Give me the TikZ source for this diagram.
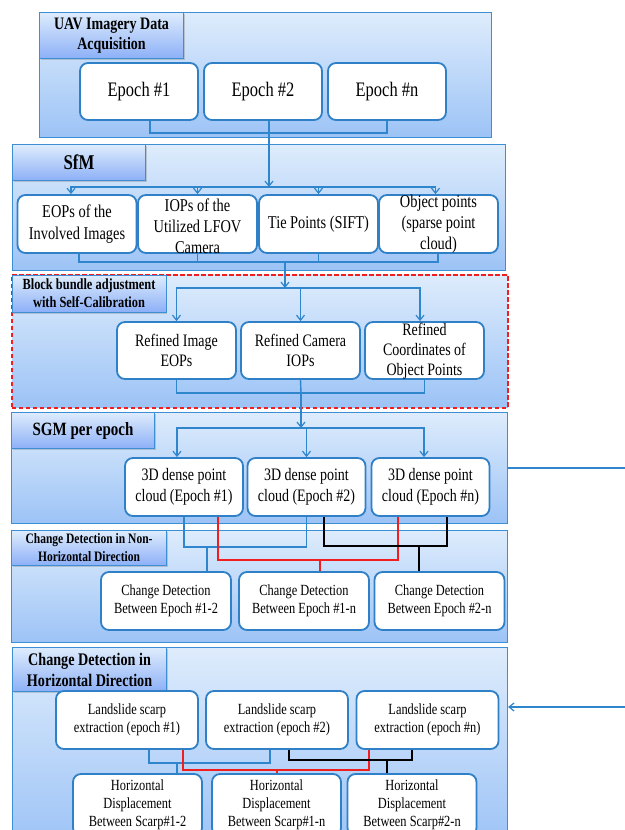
\documentclass[tikz,border=0pt]{standalone}
\usepackage{fontspec}
\setmainfont{Liberation Serif}[FakeStretch=0.8]
\usetikzlibrary{arrows.meta,shadows}
\definecolor{pTop}{HTML}{DEECFC}
\definecolor{pBot}{HTML}{9CC3F6}
\definecolor{pEdge}{HTML}{3C8FD4}
\definecolor{bEdge}{HTML}{2F80C6}
\definecolor{cBlue}{HTML}{2F86CC}
\definecolor{cRed}{HTML}{F01E1E}
\tikzset{
  panel/.style={draw=pEdge, line width=1.1pt, top color=pTop, bottom color=pBot, anchor=north west, inner sep=0pt},
  tab/.style={draw=pEdge, line width=1.1pt, top color=pTop, bottom color=pBot!90!blue, anchor=north west, inner sep=0pt,
    drop shadow={shadow xshift=1.2pt, shadow yshift=-1.5pt, opacity=0.35}, align=center, font=\bfseries},
  box/.style={draw=bEdge, line width=1.8pt, fill=white, rounded corners=8pt, align=center, inner sep=0pt},
  btxt/.style={align=center, inner sep=0pt},
  conn/.style={draw=cBlue, line width=1.4pt},
  rconn/.style={draw=cRed, line width=1.4pt},
  kconn/.style={draw=black, line width=1.4pt},
  arr/.style={-{Straight Barb[length=5pt,width=8pt,line width=1.2pt]}},
}
\begin{document}
\begin{tikzpicture}[x=1pt,y=-1pt]
\useasboundingbox (0,0) rectangle (624,830);
\fill[white] (0,0) rectangle (624,830);

% ---------- Panel 1 ----------
\node[panel, minimum width=452pt, minimum height=125pt] (p1) at (39,12) {};
\node[tab, minimum width=144pt, minimum height=46pt, font=\fontsize{17.5}{20}\selectfont\bfseries] (t1) at (39,12) {UAV Imagery Data\\Acquisition};
\tikzset{ebox/.style={box, minimum width=118pt, minimum height=57pt, font=\fontsize{20.6}{22}\selectfont}}
\node[ebox] (e1) at (139,91.5) {Epoch \#1};
\node[ebox] (e2) at (263,91.5) {Epoch \#2};
\node[ebox] (en) at (387,91.5) {Epoch \#n};

% ---------- Panel 2 ----------
\node[panel, minimum width=493pt, minimum height=126pt] (p2) at (12,144) {};
\node[tab, minimum width=133pt, minimum height=36pt, font=\fontsize{21}{22}\selectfont\bfseries] (t2) at (12,144) {SfM};
\tikzset{sbox/.style={box, minimum width=119pt, minimum height=58pt, font=\fontsize{18}{21.5}\selectfont},
         stxt/.style={btxt, font=\fontsize{18}{21}\selectfont}}
\node[sbox] (eop) at (77,224) {EOPs of the\\Involved Images};
\node[sbox] (iop) at (197.5,224) {};
\node[stxt] (iopt) at (197.5,226) {IOPs of the\\Utilized LFOV\\Camera};
\node[sbox] (tie) at (318.5,224) {Tie Points (SIFT)};
\node[sbox] (obj) at (438.5,224) {};
\node[stxt] (objt) at (438.5,224) {Object points\\(sparse point\\cloud)};

% ---------- Panel 3 ----------
\node[panel, minimum width=496pt, minimum height=133pt, draw=cRed, line width=1.6pt, dash pattern=on 4.5pt off 2.5pt] (p3) at (11,274) {};
\node[tab, minimum width=154pt, minimum height=37pt, font=\fontsize{15.5}{18}\selectfont\bfseries] (t3) at (11.5,274.5) {Block bundle adjustment\\with Self-Calibration};
\tikzset{rbox/.style={box, minimum width=119pt, minimum height=57pt, font=\fontsize{17.5}{20}\selectfont},
         rtxt/.style={btxt, font=\fontsize{17.5}{20}\selectfont}}
\node[rbox] (r1) at (176.5,350.5) {Refined Image\\EOPs};
\node[rbox] (r2) at (300.5,350.5) {Refined Camera\\IOPs};
\node[rbox] (r3) at (424.5,350.5) {};
\node[rtxt] (r3t) at (424.5,351) {Refined\\Coordinates of\\Object Points};

% ---------- Panel 4 ----------
\node[panel, minimum width=496pt, minimum height=111pt] (p4) at (11,412) {};
\node[tab, minimum width=143pt, minimum height=36pt, font=\fontsize{18.75}{20}\selectfont\bfseries] (t4) at (11,412) {SGM per epoch};
\tikzset{dbox/.style={box, minimum width=118pt, minimum height=58pt, font=\fontsize{17.5}{20.5}\selectfont}}
\node[dbox] (d1) at (184,487) {3D dense point\\cloud (Epoch \#1)};
\node[dbox] (d2) at (306.5,487) {3D dense point\\cloud (Epoch \#2)};
\node[dbox] (d3) at (430.5,487) {3D dense point\\cloud (Epoch \#n)};

% ---------- Panel 5 ----------
\node[panel, minimum width=496pt, minimum height=112pt] (p5) at (11,530) {};
\node[tab, minimum width=155pt, minimum height=35pt, font=\fontsize{14.4}{18}\selectfont\bfseries] (t5) at (11,530) {Change Detection in Non-\\Horizontal Direction};
\tikzset{cbox/.style={box, minimum width=130pt, minimum height=58pt, font=\fontsize{15.5}{18}\selectfont}}
\node[cbox] (c1) at (166,601) {Change Detection\\Between Epoch \#1-2};
\node[cbox] (c2) at (304,601) {Change Detection\\Between Epoch \#1-n};
\node[cbox] (c3) at (439.5,601) {Change Detection\\Between Epoch \#2-n};

% ---------- Panel 6 ----------
\node[panel, minimum width=495pt, minimum height=200pt] (p6) at (12,647) {};
\node[tab, minimum width=154pt, minimum height=44pt, font=\fontsize{17.7}{21}\selectfont\bfseries] (t6) at (12,647) {Change Detection in\\Horizontal Direction};
\tikzset{lbox/.style={box, minimum width=142pt, minimum height=58pt, font=\fontsize{15.5}{18}\selectfont}}
\node[lbox] (l1) at (127,720) {Landslide scarp\\extraction (epoch \#1)};
\node[lbox] (l2) at (277,720) {Landslide scarp\\extraction (epoch \#2)};
\node[lbox] (l3) at (427.5,720) {Landslide scarp\\extraction (epoch \#n)};
\tikzset{hbox/.style={box, minimum width=129pt, minimum height=62pt, font=\fontsize{15.5}{18}\selectfont}}
\node[hbox] (h1) at (137.5,805) {Horizontal\\Displacement\\Between Scarp\#1-2};
\node[hbox] (h2) at (276.5,805) {Horizontal\\Displacement\\Between Scarp\#1-n};
\node[hbox] (h3) at (412,805) {Horizontal\\Displacement\\Between Scarp\#2-n};

% ---------- Connectors ----------
% UAV -> SfM
\coordinate (j1) at (269,133);
\coordinate (j2) at (269,187);
\draw[conn] ([xshift=11pt]e1.south) |- (j1) -| (en.south);
\draw[conn, arr] ([xshift=6pt]e2.south) -- (j2);
\draw[conn, arr] (j2) -| ([xshift=-6pt]eop.north);
\draw[conn, arr] (j2) -| (iop.north);
\draw[conn, arr] (j2) -| (tie.north);
\draw[conn, arr] (j2) -| ([xshift=-3pt]obj.north);
% SfM -> Bundle
\coordinate (j3) at (285,262);
\coordinate (j4) at (285,288);
\draw[conn] ([xshift=2pt]eop.south) |- (j3) -| ([xshift=-0.5pt]obj.south);
\draw[conn] (iop.south) -- (iop.south |- j3);
\draw[conn] (tie.south) -- (tie.south |- j3);
\draw[conn, arr] (j3) -- (j4);
\draw[conn, arr] (j4) -| (r1.north);
\draw[conn, arr] (j4) -| (r2.north);
\draw[conn, arr] (j4) -| ([xshift=-4.5pt]r3.north);
% Bundle -> SGM
\coordinate (j5) at (301,393);
\coordinate (j6) at (301,428);
\draw[conn] (r1.south) |- (j5) -| (r3.south);
\draw[conn] (r2.south) -- (j5);
\draw[conn, arr] (j5) -- (j6);
\draw[conn, arr] (j6) -| ([xshift=-7pt]d1.north);
\draw[conn, arr] (j6) -| (d2.north);
\draw[conn, arr] (j6) -| ([xshift=-6.5pt]d3.north);
% SGM -> Change detection (non horizontal)
\coordinate (bb) at (207,547);
\coordinate (rb) at (320,560);
\coordinate (kb) at (419,546);
\draw[conn] (d1.south) |- (bb) -| (d2.south);
\draw[conn] (bb) -- (bb |- c1.north);
\draw[rconn] ([xshift=34pt]d1.south) |- (rb) -| ([xshift=-32.5pt]d3.south);
\draw[rconn] (rb) -- (rb |- c2.north);
\draw[kconn] ([xshift=17.5pt]d2.south) |- (kb) -| ([xshift=16.5pt]d3.south);
\draw[kconn] (kb) -- (kb |- c3.north);
% Landslide -> Horizontal displacement
\coordinate (bb2) at (177,763);
\coordinate (rb2) at (277,770);
\coordinate (kb2) at (387,760);
\draw[conn] ([xshift=22pt]l1.south) |- (bb2) -| ([xshift=-7pt]l2.south);
\draw[conn] (bb2) -- (bb2 |- h1.north);
\draw[rconn] ([xshift=56pt]l1.south) |- (rb2) -| ([xshift=-58.5pt]l3.south);
\draw[rconn] (rb2) -- (rb2 |- h2.north);
\draw[kconn] ([xshift=12pt]l2.south) |- (kb2) -| ([xshift=-15.5pt]l3.south);
\draw[kconn] (kb2) -- (kb2 |- h3.north);
% Right-hand link SGM -> horizontal panel
\coordinate (rt) at (660,707);
\draw[conn, arr] (p4.east) -| (rt) -- (rt -| p6.east);
\end{tikzpicture}
\end{document}
